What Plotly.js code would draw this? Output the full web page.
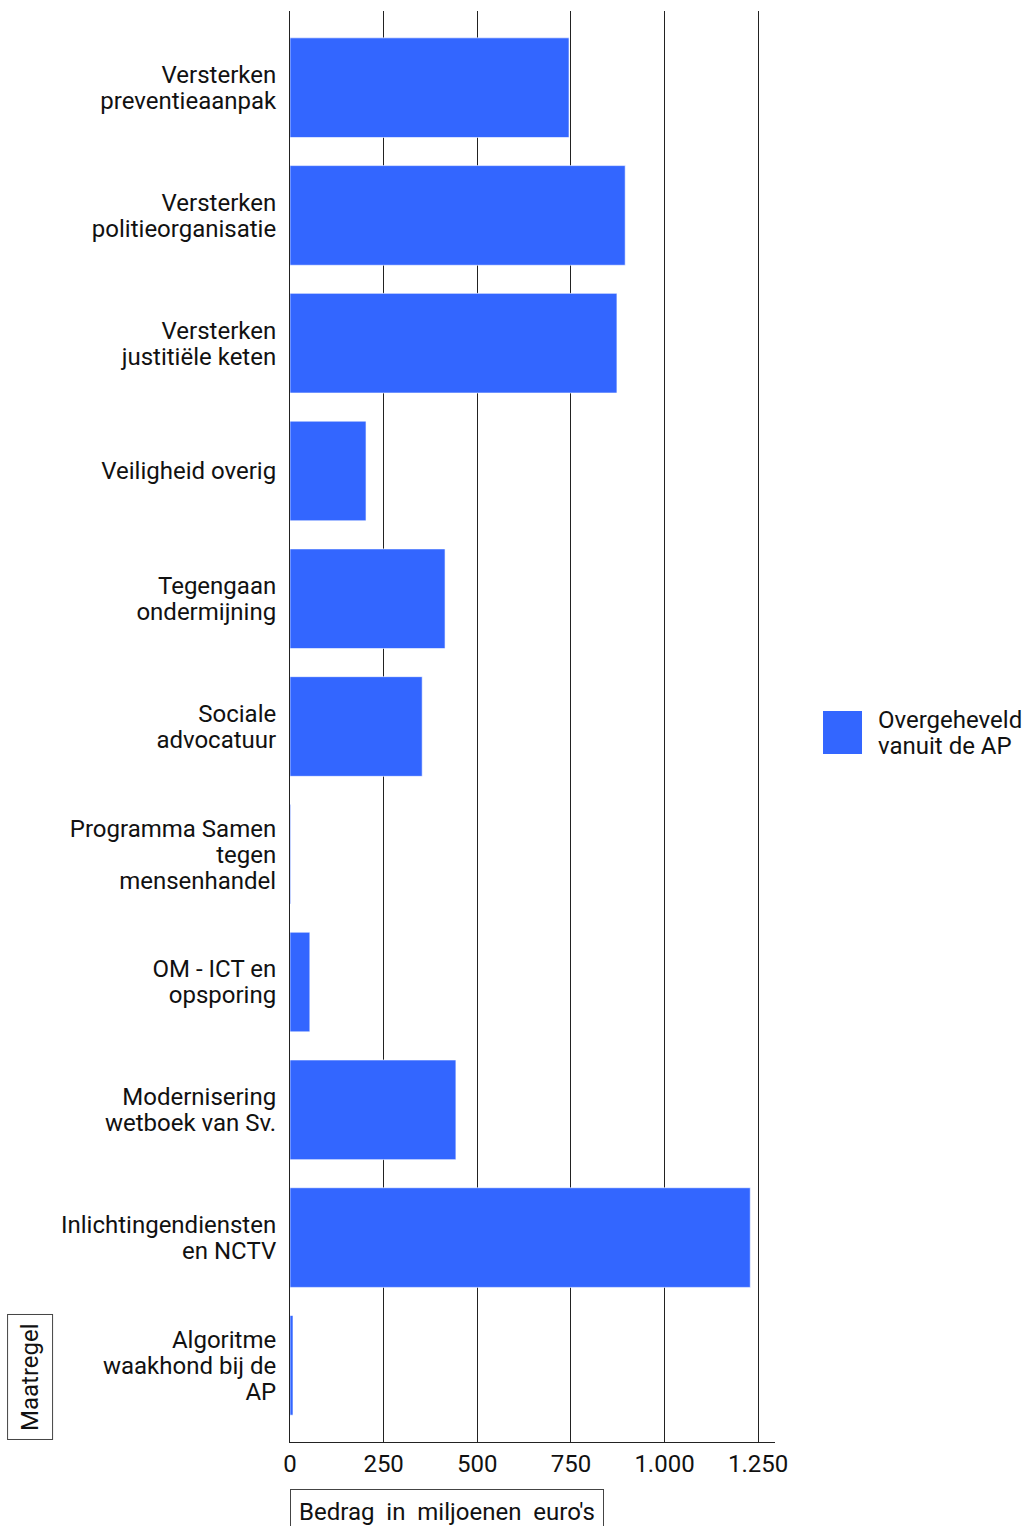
<!DOCTYPE html>
<html>
<head>
<meta charset="utf-8">
<script src="https://cdn.plot.ly/plotly-3.0.1.min.js"></script>
<style>html,body{margin:0;padding:0;background:#fff;}#chart{width:1026px;height:1526px;}</style>
</head>
<body>
<div id="chart"></div>
<script>
var categories = [
  "Versterken<br>preventieaanpak",
  "Versterken<br>politieorganisatie",
  "Versterken<br>justitiële keten",
  "Veiligheid overig",
  "Tegengaan<br>ondermijning",
  "Sociale<br>advocatuur",
  "Programma Samen<br>tegen<br>mensenhandel",
  "OM - ICT en<br>opsporing",
  "Modernisering<br>wetboek van Sv.",
  "Inlichtingendiensten<br>en NCTV",
  "Algoritme<br>waakhond bij de<br>AP"
];
var values = [745, 895, 873, 203, 414, 353, 2, 53, 443, 1229, 8];
var seriesName = "Overgeheveld vanuit de AP";
var legendLabel = "Overgeheveld<br>vanuit de AP";
var xTickValues = [0, 250, 500, 750, 1000, 1250];
var xTitle = "Bedrag&nbsp; in&nbsp; miljoenen&nbsp; euro's";
var yTitle = "Maatregel";

var FS = 24;
var font = {family: "Roboto, 'Open Sans', sans-serif", size: FS, color: "#111"};

var trace = {
  type: "bar",
  orientation: "h",
  name: seriesName,
  x: values,
  y: categories,
  marker: {color: "#3366FF", line: {color: "rgba(255,255,255,0.6)", width: 1}},
  hoverinfo: "x+y",
  showlegend: false
};

var layout = {
  width: 1026,
  height: 1526,
  margin: {l: 290, r: 251, t: 11, b: 84},
  paper_bgcolor: "#fff",
  plot_bgcolor: "#fff",
  font: font,
  separators: ",.",
  bargap: 0.22,
  showlegend: false,
  xaxis: {
    range: [0, 1295],
    tickvals: xTickValues,
    tickformat: ",d",
    showgrid: true,
    gridcolor: "#222",
    gridwidth: 1,
    zeroline: false,
    showline: true,
    linecolor: "#222",
    linewidth: 1,
    ticks: "",
    tickfont: font
  },
  yaxis: {
    type: "category",
    range: [10.6, -0.6],
    showgrid: false,
    zeroline: false,
    showline: true,
    linecolor: "#222",
    linewidth: 1,
    ticks: "",
    ticklabelstandoff: 8,
    tickfont: font
  },
  annotations: [
    {
      text: xTitle, xref: "paper", yref: "paper", x: 0, y: -0.049,
      xanchor: "left", yanchor: "middle", showarrow: false,
      font: font, bordercolor: "#444", borderwidth: 1, borderpad: 8
    },
    {
      text: yTitle, xref: "paper", yref: "paper", x: -0.535, y: 0.0451,
      xanchor: "center", yanchor: "middle", textangle: -90, showarrow: false,
      font: font, bordercolor: "#444", borderwidth: 1, borderpad: 8
    },
    {
      text: legendLabel, xref: "paper", yref: "paper", x: 1.2082, y: 0.4955,
      xanchor: "left", yanchor: "middle", align: "left", showarrow: false,
      font: font
    }
  ],
  shapes: [
    {
      type: "rect", xref: "paper", yref: "paper",
      x0: 1.099, x1: 1.1794, y0: 0.4808, y1: 0.5108,
      fillcolor: "#3366FF", line: {width: 0}
    }
  ]
};

// tighten multi-line spacing to 26px per line (reference line height)
function tightenLines(gd) {
  var ratio = 26 / FS;
  var texts = gd.querySelectorAll("text");
  texts.forEach(function (t) {
    var lines = t.querySelectorAll("tspan.line");
    if (lines.length < 2) return;
    var b0 = t.getBBox();
    var c0 = b0.y + b0.height / 2;
    lines.forEach(function (ln) {
      var dy = ln.getAttribute("dy");
      if (!dy) return;
      var m = /^(-?[\d.]+)em$/.exec(dy);
      if (!m) return;
      var v = parseFloat(m[1]);
      ln.setAttribute("dy", (v / 1.3 * ratio) + "em");
    });
    var b1 = t.getBBox();
    var c1 = b1.y + b1.height / 2;
    var shift = c0 - c1;
    var tr = t.getAttribute("transform") || "";
    t.setAttribute("transform", tr + " translate(0," + shift + ")");
  });
}

Plotly.newPlot("chart", [trace], layout, {displayModeBar: false, staticPlot: true}).then(function (gd) {
  tightenLines(gd);
});
</script>
</body>
</html>
